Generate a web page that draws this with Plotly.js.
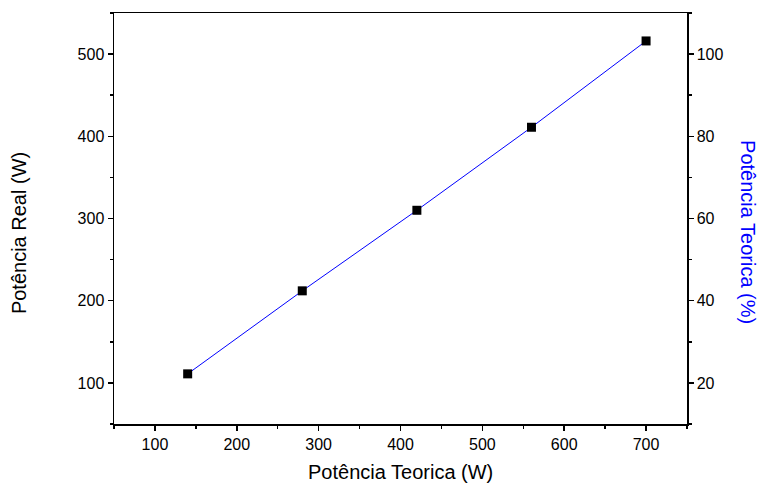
<!DOCTYPE html>
<html>
<head>
<meta charset="utf-8">
<script src="https://cdn.plot.ly/plotly-3.0.1.min.js"></script>
<style>html,body{margin:0;padding:0;background:#fff;}#chart{width:762px;height:486px;}</style>
</head>
<body>
<div id="chart"></div>
<script>
const potenciaTeorica = [140, 280, 420, 560, 700];
const potenciaReal = [111, 212, 310, 411, 516];
const xTicks = [100, 200, 300, 400, 500, 600, 700];
const yTicks = [100, 200, 300, 400, 500];
const y2Ticks = [20, 40, 60, 80, 100];
const xTitle = 'Potência Teorica (W)';
const yTitle = 'Potência Real (W)';
const y2Title = 'Potência Teorica (%)';

const font = 'Liberation Sans, Arial, sans-serif';
const traces = [
  {
    x: potenciaTeorica, y: potenciaReal, type: 'scatter', mode: 'lines+markers',
    line: {color: '#0000ff', width: 1},
    marker: {symbol: 'square', size: 9, color: '#000000'},
    showlegend: false
  },
  { x: [], y: [], type: 'scatter', yaxis: 'y2', showlegend: false, hoverinfo: 'skip' }
];
const axisCommon = {
  showline: true, linecolor: '#000', linewidth: 1.5, showgrid: false, zeroline: false,
  ticks: 'outside', ticklen: 5, tickwidth: 1.5, tickcolor: '#000',
  tickfont: {family: font, size: 16, color: '#000'}
};
const minorCommon = {ticks: 'outside', ticklen: 3, tickwidth: 1.5, tickcolor: '#000', showgrid: false};
const layout = {
  width: 762, height: 486,
  margin: {l: 114, r: 75, t: 13, b: 62},
  paper_bgcolor: '#fff', plot_bgcolor: '#fff',
  showlegend: false,
  xaxis: Object.assign({}, axisCommon, {
    range: [50, 750], tickvals: xTicks, mirror: true,
    minor: Object.assign({dtick: 50}, minorCommon)
  }),
  yaxis: Object.assign({}, axisCommon, {
    range: [50, 550], tickvals: yTicks,
    minor: Object.assign({dtick: 50}, minorCommon)
  }),
  yaxis2: Object.assign({}, axisCommon, {
    overlaying: 'y', side: 'right', range: [10, 110], tickvals: y2Ticks,
    minor: Object.assign({dtick: 10}, minorCommon)
  }),
  annotations: [
    {text: xTitle, xref: 'paper', yref: 'paper', x: 0.5, y: -0.1168, xanchor: 'center', yanchor: 'middle',
     showarrow: false, font: {family: font, size: 20, color: '#000'}},
    {text: yTitle, xref: 'paper', yref: 'paper', x: -0.1654, y: 0.465, xanchor: 'center', yanchor: 'middle',
     textangle: -90, showarrow: false, font: {family: font, size: 20, color: '#000'}},
    {text: y2Title, xref: 'paper', yref: 'paper', x: 1.1065, y: 0.467, xanchor: 'center', yanchor: 'middle',
     textangle: 90, showarrow: false, font: {family: font, size: 20, color: '#0000ff'}}
  ]
};
Plotly.newPlot('chart', traces, layout, {displayModeBar: false, staticPlot: true});
</script>
</body>
</html>
